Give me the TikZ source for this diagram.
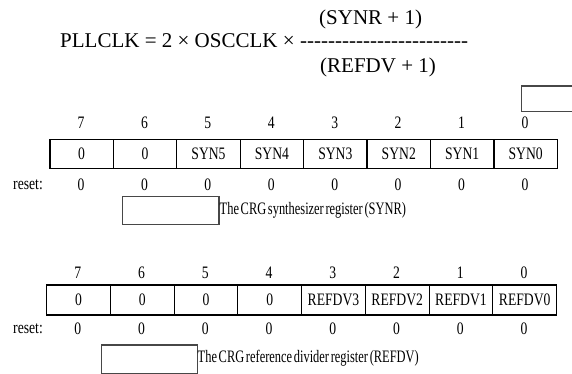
\documentclass[tikz,border=0pt]{standalone}
\usepackage{fontspec}
\setmainfont{Liberation Serif}
\newfontfamily\regfont[FakeStretch=0.78]{Liberation Serif}
\newfontfamily\capfont[FakeStretch=0.71,WordSpace=0.55]{Liberation Serif}

\tikzset{
  formula/.style={inner sep=0pt, anchor=base west, font=\fontsize{21}{25}\selectfont},
  regtext/.style={font=\regfont\fontsize{17.5}{20}\selectfont},
  bitcell/.style={draw, line width=1.2pt, minimum width=63.43pt, minimum height=28.7pt,
                  inner sep=0pt, anchor=north west, regtext},
  bitnum/.style={regtext, inner sep=0pt},
  keybox/.style={draw=black!72, line width=1.2pt, inner sep=0pt, anchor=north west},
  caption/.style={font=\capfont\fontsize{17.5}{20}\selectfont, inner sep=0pt, anchor=west},
}

\begin{document}
\begin{tikzpicture}[x=1pt,y=-1pt]
\useasboundingbox (0,0) rectangle (572,374);

% PLL frequency formula
\node[formula] (lhs) at (60,47.7) {PLLCLK = 2 × OSCCLK ×};
\node[formula] (bar) at (300,47.7)
  {-{}-{}-{}-{}-{}-{}-{}-{}-{}-{}-{}-{}-{}-{}-{}-{}-{}-{}-{}-{}-{}-{}-{}-{}};
\node[formula] (num) at (319,25) {(SYNR + 1)};
\node[formula] (den) at (320,73) {(REFDV + 1)};

% open note box at the right edge
\coordinate (note-tr) at (572,86);
\coordinate (note-br) at (572,111.7);
\draw[draw=black!72, line width=1.2pt] (note-tr) -- (521.7,86) -- (521.7,111.7) -- (note-br);

% SYNR register
\foreach \lab [count=\i from 0] in {0,0,SYN5,SYN4,SYN3,SYN2,SYN1,SYN0}{
  \pgfmathtruncatemacro{\b}{7-\i}
  \pgfmathsetmacro{\x}{49.3+63.43*\i}
  \node[bitcell] (synr-\b) at (\x,139) {\lab};
  \node[bitnum] (synr-num-\b) at (\x+31.7,123) {\b};
  \node[bitnum] (synr-rst-\b) at (\x+31.7,185) {0};
}
\node[regtext, inner sep=0pt, anchor=east] (synr-reset) at (43,185) {reset:};
\node[keybox, minimum width=96.3pt, minimum height=28.3pt] (synr-key) at (122,195.7) {};
\node[caption] (synr-cap) at (219.5,210) {The CRG synthesizer register (SYNR)};

% REFDV register
\foreach \lab [count=\i from 0] in {0,0,0,0,REFDV3,REFDV2,REFDV1,REFDV0}{
  \pgfmathtruncatemacro{\b}{7-\i}
  \pgfmathsetmacro{\x}{46+63.75*\i}
  \node[bitcell, minimum width=63.75pt, minimum height=30pt] (refdv-\b) at (\x,284.3) {\lab};
  \node[bitnum] (refdv-num-\b) at (\x+31.9,273) {\b};
  \node[bitnum] (refdv-rst-\b) at (\x+31.9,329) {0};
}
\node[regtext, inner sep=0pt, anchor=east] (refdv-reset) at (43,329) {reset:};
\node[keybox, minimum width=95.7pt, minimum height=28.4pt] (refdv-key) at (101,344.3) {};
\node[caption] (refdv-cap) at (197.5,358.5) {The CRG reference divider register (REFDV)};
\end{tikzpicture}
\end{document}
